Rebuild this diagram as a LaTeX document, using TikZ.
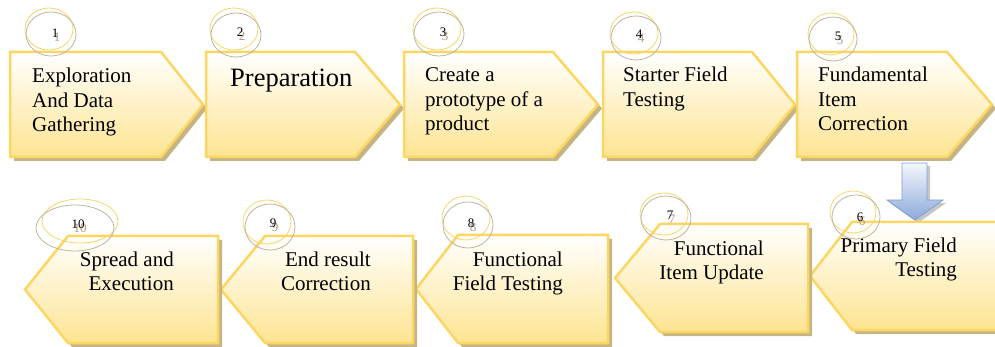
\documentclass[tikz,border=0pt]{standalone}
\usepackage{fontspec}
\setmainfont{Liberation Serif}
\usetikzlibrary{calc}
\definecolor{boxedge}{RGB}{253,214,98}
\definecolor{boxfill}{RGB}{254,228,145}
\definecolor{shadowtan}{RGB}{197,180,132}
\definecolor{ringyellow}{RGB}{249,212,106}
\definecolor{ringgray}{RGB}{190,180,160}
\definecolor{numgray}{RGB}{170,156,128}
\definecolor{arrowedge}{RGB}{127,159,215}
\definecolor{arrowtop}{RGB}{244,247,252}
\definecolor{arrowbot}{RGB}{142,169,219}
\tikzset{
  boxshape/.style={draw=boxedge, line width=2.5pt, line join=miter, top color=white, bottom color=boxfill},
  boxshadow/.style={fill=shadowtan},
  ringA/.style={draw=ringyellow, line width=0.8pt},
  ringB/.style={draw=ringgray, line width=0.8pt},
  stepno/.style={font=\fontsize{13}{13}\selectfont, inner sep=0pt},
  stepnoshade/.style={stepno, text=numgray},
  steptext/.style={font=\fontsize{21}{24.5}\selectfont, inner sep=0pt},
}
% right-pointing step: left, flat end, tip, top, bottom
\newcommand\rstep[5]{%
  \begin{scope}[shift={(4,4)}]
    \fill[boxshadow] (#1,#4) -- (#2,#4) -- (#3,{(#4+#5)/2}) -- (#2,#5) -- (#1,#5) -- cycle;
  \end{scope}
  \path[boxshape] (#1,#4) -- (#2,#4) -- (#3,{(#4+#5)/2}) -- (#2,#5) -- (#1,#5) -- cycle;
}
% left-pointing step: tip, flat start, right, top, bottom
\newcommand\lstep[5]{%
  \begin{scope}[shift={(4,4)}]
    \fill[boxshadow] (#1,{(#4+#5)/2}) -- (#2,#4) -- (#3,#4) -- (#3,#5) -- (#2,#5) -- cycle;
  \end{scope}
  \path[boxshape] (#1,{(#4+#5)/2}) -- (#2,#4) -- (#3,#4) -- (#3,#5) -- (#2,#5) -- cycle;
}
% step number with its two rings: name, number, number pos, yellow ring centre, grey ring centre, radii
\newcommand\stepnum[7]{%
  \draw[ringA] #4 ellipse [x radius=#6, y radius=#7];
  \draw[ringB] #5 ellipse [x radius=#6+1, y radius=#7+1];
  \node[stepnoshade] (#1s) at ($#3+(2,4)$) {#2};
  \node[stepno] (#1) at #3 {#2};
}
\begin{document}
\begin{tikzpicture}[x=1pt,y=-1pt]
\useasboundingbox (0,0) rectangle (995,347);
\clip (0,0) rectangle (995,347);

% top row
\rstep{10}{161}{203}{52}{157}
\rstep{206}{355}{400}{52}{157}
\rstep{404}{553}{598}{52}{157}
\rstep{603}{752}{795}{52}{157}
\rstep{797}{947}{992}{52}{157}

% block arrow from step 5 down to step 6
\coordinate (down-from) at (915,163);
\coordinate (down-to) at (915,220);
\begin{scope}[shift={(3,3)}]
  \fill[gray!45] (902,163) -- (927,163) -- (927,200) -- (943,200) -- (915,220) -- (887,200) -- (902,200) -- cycle;
\end{scope}
\path[draw=arrowedge, line width=0.8pt, top color=arrowtop, bottom color=arrowbot]
  (902,163) -- (927,163) -- (927,200) -- (943,200) -- (down-to) -- (887,200) -- (902,200) -- cycle;

% bottom row
\lstep{810}{852}{1005}{222}{330}
\lstep{615}{660}{808}{224}{332}
\lstep{416}{458}{608}{235}{343}
\lstep{221}{265}{413}{236}{343}
\lstep{25}{68}{218}{236}{343}

% labels (placed on the baseline of their last line)
\node[steptext, anchor=base west, align=left] (t1) at (32,132) {Exploration\\And Data\\Gathering};
\node[steptext, font=\fontsize{26.5}{30}\selectfont, anchor=base west] (t2) at (230,87) {Preparation};
\node[steptext, anchor=base west, align=left] (t3) at (425,131) {Create a\\prototype of a\\product};
\node[steptext, anchor=base west, align=left] (t4) at (623,106.5) {Starter Field\\Testing};
\node[steptext, anchor=base west, align=left] (t5) at (818,131) {Fundamental\\Item\\Correction};
\node[steptext, anchor=base east, align=right] (t6) at (957,276.5) {Primary Field\\Testing};
\node[steptext, anchor=base east, align=right] (t7) at (764,279.5) {Functional\\Item Update};
\node[steptext, anchor=base east, align=right] (t8) at (563,290.5) {Functional\\Field Testing};
\node[steptext, anchor=base east, align=right] (t9) at (371,290.5) {End result\\Correction};
\node[steptext, anchor=base east, align=right] (t10) at (174,290.5) {Spread and\\Execution};

% step numbers
\stepnum{n1}{1}{(55,33)}{(49,29)}{(51,34)}{24}{21}
\stepnum{n2}{2}{(240,32)}{(234,29)}{(236,35)}{24}{21}
\stepnum{n3}{3}{(443,32)}{(437,29)}{(439,34)}{24}{21}
\stepnum{n4}{4}{(639,34)}{(634,33)}{(636,38)}{24}{21}
\stepnum{n5}{5}{(838,36)}{(831,34)}{(833,39)}{23}{21}
\stepnum{n6}{6}{(860,217)}{(853,212)}{(856,217)}{23}{21}
\stepnum{n7}{7}{(670,215)}{(664,214)}{(666,218)}{24}{21}
\stepnum{n8}{8}{(471,223)}{(466,218)}{(468,225)}{24}{22}
\stepnum{n9}{9}{(273,223)}{(267,222)}{(270,227)}{24}{22}
\stepnum{n10}{10}{(78,224)}{(80,221)}{(75,228)}{38}{22}
\end{tikzpicture}
\end{document}
